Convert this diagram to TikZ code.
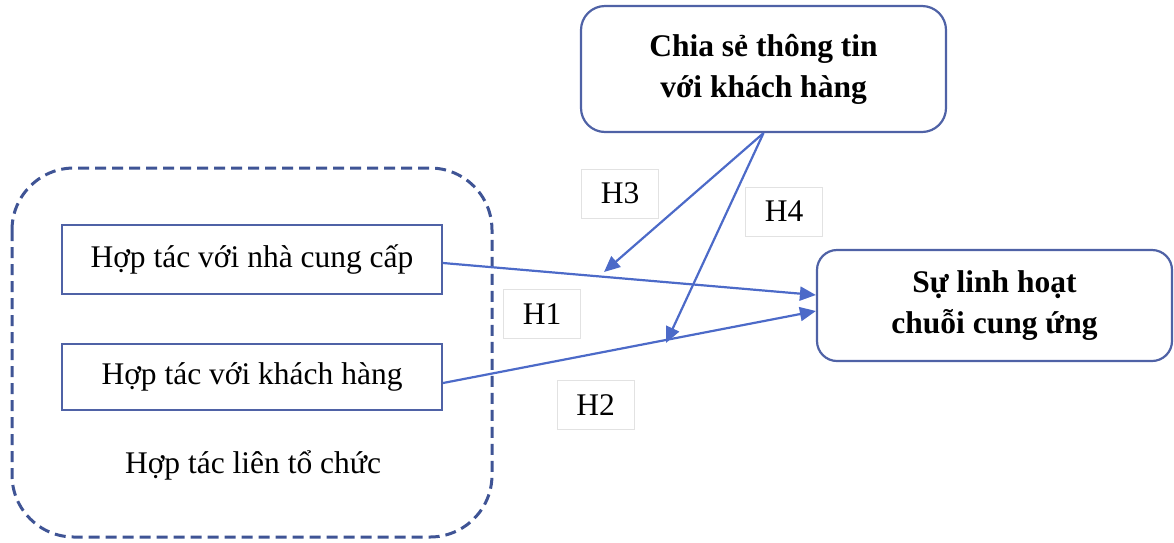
\documentclass[tikz,border=0pt]{standalone}
\usepackage{fontspec}
\setmainfont{Liberation Serif}
\usetikzlibrary{arrows.meta}
\definecolor{frameblue}{HTML}{3F5495}
\definecolor{boxblue}{HTML}{4F62A6}
\definecolor{arrowblue}{HTML}{4C6AC8}
\definecolor{labelgray}{HTML}{E2E2E2}
\newcommand{\bigtext}{\fontsize{31.5}{41}\selectfont}
\tikzset{
  plainbox/.style={draw=boxblue, line width=2pt, minimum width=380pt, align=center},
  roundbox/.style={draw=boxblue, line width=2.2pt, rounded corners=24pt, align=center, font=\bigtext\bfseries},
  hbox/.style={draw=labelgray, line width=1pt, minimum width=77pt, minimum height=49pt},
  link/.style={draw=arrowblue, line width=2.2pt, -{Triangle[length=16pt,width=14pt]}}
}
\begin{document}
\begin{tikzpicture}[x=1pt, y=-1pt, font=\bigtext]
\useasboundingbox (0,0) rectangle (1174,542);
% dashed group
\draw[frameblue, line width=3pt, dash pattern=on 11pt off 6pt, rounded corners=62pt] (12,168) rectangle (492,537);
\node (org) at (253,465) {Hợp tác liên tổ chức};
% left boxes
\node[plainbox, minimum height=69pt] (sup) at (252,259.5) {Hợp tác với nhà cung cấp};
\node[plainbox, minimum height=66pt] (cus) at (252,377) {Hợp tác với khách hàng};
% rounded boxes
\node[roundbox, minimum width=365pt, minimum height=126pt] (share) at (763.5,69) {Chia sẻ thông tin\\với khách hàng};
\node[roundbox, minimum width=355pt, minimum height=111pt, rounded corners=20pt] (flex) at (994.5,305.5) {Sự linh hoạt\\chuỗi cung ứng};
% hypothesis labels
\node[hbox] (h3) at (620,193.5) {H3};
\node[hbox] (h4) at (784,211.5) {H4};
\node[hbox] (h1) at (542,314) {H1};
\node[hbox] (h2) at (595.5,405) {H2};
% arrows
\coordinate (m1) at (604,272);
\coordinate (m2) at (666,343);
\draw[link] ([yshift=-3.5pt]sup.east) -- ([yshift=10.5pt]flex.west);
\draw[link] ([yshift=-6pt]cus.east) -- ([yshift=-5.5pt]flex.west);
\draw[link] (share.south) -- (m1);
\draw[link] (share.south) -- (m2);
\end{tikzpicture}
\end{document}
